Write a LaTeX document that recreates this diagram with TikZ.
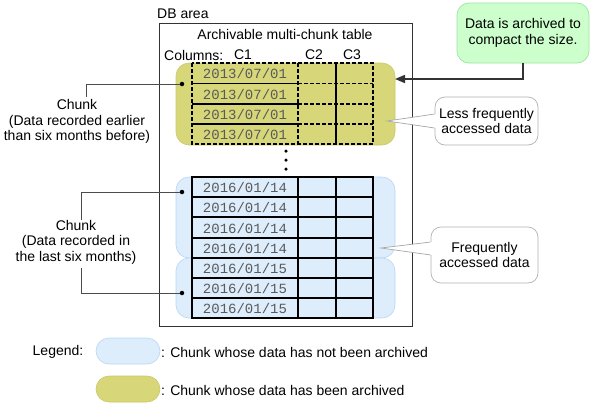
\documentclass[tikz,border=0pt]{standalone}
\usepackage{fontspec}
\setmainfont{Liberation Sans}
\setmonofont{Liberation Mono}
\usetikzlibrary{arrows.meta}
\definecolor{olivef}{HTML}{D7D77A}
\definecolor{oliveb}{HTML}{C9C968}
\definecolor{bluef}{HTML}{DDEDFC}
\definecolor{blueb}{HTML}{B7D6F6}
\definecolor{greenf}{HTML}{CCFFCC}
\definecolor{greenb}{HTML}{9EE39E}
\definecolor{dategray}{HTML}{5A5A5A}
\begin{document}
\begin{tikzpicture}[x=1pt,y=-1pt,
  every node/.style={font=\fontsize{14}{15.5}\selectfont, inner sep=0pt},
  lbl/.style={align=center},
  datecell/.style={font=\fontsize{14}{15.5}\ttfamily, text=dategray},
  archchunk/.style={draw=oliveb, fill=olivef, rounded corners=13pt, line width=0.6pt},
  livechunk/.style={draw=blueb, fill=bluef, rounded corners=13pt, line width=0.6pt},
  note/.style={draw=black!30, fill=white, rounded corners=10pt, line width=0.7pt, align=center},
  tline/.style={line width=1.2pt, black},
  dline/.style={line width=1.2pt, black, dash pattern=on 4pt off 2pt},
  leader/.style={line width=0.9pt, black!70},
  dotc/.style={circle, fill=black, minimum size=4.5pt, inner sep=0pt},
  tail/.style={draw=black!35, line width=0.7pt},
  arrowline/.style={line width=1.6pt, black!80, -{Triangle[length=10pt,width=8pt]}}
]
\useasboundingbox (0,0) rectangle (592,405);

% DB area
\node[anchor=west] (dbl) at (157,14) {DB area};
\draw[line width=0.9pt, black!80] (159,23) rectangle (412,326);
\node (ttl) at (285,34) {Archivable multi-chunk table};
\node[anchor=west] (cols) at (164,55) {Columns:};
\node (c1) at (243,55) {C1};
\node (c2) at (314,55) {C2};
\node (c3) at (352,55) {C3};

% chunks
\path[archchunk] (176,63) rectangle (395,145);
\node[minimum width=219pt, minimum height=82pt] (olive) at (285.5,104) {};
\path[livechunk] (176,177) rectangle (395,258);
\node[minimum width=219pt, minimum height=81pt] (blue1) at (285.5,217.5) {};
\path[livechunk] (176,258) rectangle (395,318);
\node[minimum width=219pt, minimum height=60pt] (blue2) at (285.5,288) {};

% archived table
\foreach \y in {83.5,104,124}{
  \draw[tline] (192,\y) -- (298,\y);
  \draw[dline] (298,\y) -- (373,\y);
}
\draw[tline] (336,63) -- (336,144);
\draw[dline] (298,63) -- (298,144);
\draw[dline] (192,63) rectangle (373,144);
\node[datecell] (r1) at (245,73.5) {2013/07/01};
\node[datecell] (r2) at (245,94) {2013/07/01};
\node[datecell] (r3) at (245,114) {2013/07/01};
\node[datecell] (r4) at (245,134.5) {2013/07/01};

% dots
\node[dotc, minimum size=3.5pt] (v1) at (286,151) {};
\node[dotc, minimum size=3.5pt] (v2) at (286,160) {};
\node[dotc, minimum size=3.5pt] (v3) at (286,169) {};

% live table
\foreach \y in {197,217,238,258,278,298}{
  \draw[tline] (192,\y) -- (373,\y);
}
\draw[tline] (298,177) -- (298,318);
\draw[tline] (336,177) -- (336,318);
\draw[tline] (192,177) rectangle (373,318);
\node[datecell] (b1) at (245,187.5) {2016/01/14};
\node[datecell] (b2) at (245,207.5) {2016/01/14};
\node[datecell] (b3) at (245,228) {2016/01/14};
\node[datecell] (b4) at (245,248.5) {2016/01/14};
\node[datecell] (b5) at (245,268.5) {2016/01/15};
\node[datecell] (b6) at (245,288.5) {2016/01/15};
\node[datecell] (b7) at (245,308.5) {2016/01/15};

% chunk labels
\node[dotc] (d1) at (182,84) {};
\node[lbl] (lab1) at (77,121.5) {Chunk\\(Data recorded earlier\\than six months before)};
\coordinate (k1) at (86,97);
\draw[leader] (k1) |- (d1);

\node[dotc] (d2) at (182,192) {};
\node[dotc] (d3) at (182,293) {};
\node[lbl] (lab2) at (76,242) {Chunk\\(Data recorded in\\the last six months)};
\coordinate (k2) at (81,220);
\coordinate (k3) at (81,268);
\draw[leader] (k2) |- (d2);
\draw[leader] (k3) |- (d3);

% green note and arrow
\node[draw=greenb, fill=greenf, rounded corners=12pt, line width=0.7pt,
      minimum width=132pt, minimum height=60pt, align=center] (grn) at (523,33)
      {Data is archived to\\compact the size.};
\coordinate (ae) at (395,79);
\draw[arrowline] (grn.south) |- (ae);

% callout notes
\node[note, minimum width=103pt, minimum height=48pt] (lf) at (486.5,121)
      {Less frequently\\accessed data};
\coordinate (t1) at (387,121);
\fill[white] (t1) -- (436,114) -- (436,128) -- cycle;
\draw[tail] (lf.west |- 0,114) -- (t1) -- (lf.west |- 0,128);

\node[note, minimum width=107pt, minimum height=56pt] (fq) at (484.5,255)
      {Frequently\\accessed data};
\coordinate (t2) at (381,248);
\fill[white] (t2) -- (432,242) -- (432,255) -- cycle;
\draw[tail] (fq.west |- 0,242) -- (t2) -- (fq.west |- 0,255);

% legend
\node (leg) at (58,352) {Legend:};
\node[livechunk, minimum width=64pt, minimum height=26pt] (lb) at (128,351) {};
\node[anchor=west] (lbt) at (161,352) {: Chunk whose data has not been archived};
\node[archchunk, minimum width=64pt, minimum height=26pt] (lo) at (128,389) {};
\node[anchor=west] (lot) at (161,390) {: Chunk whose data has been archived};
\end{tikzpicture}
\end{document}
